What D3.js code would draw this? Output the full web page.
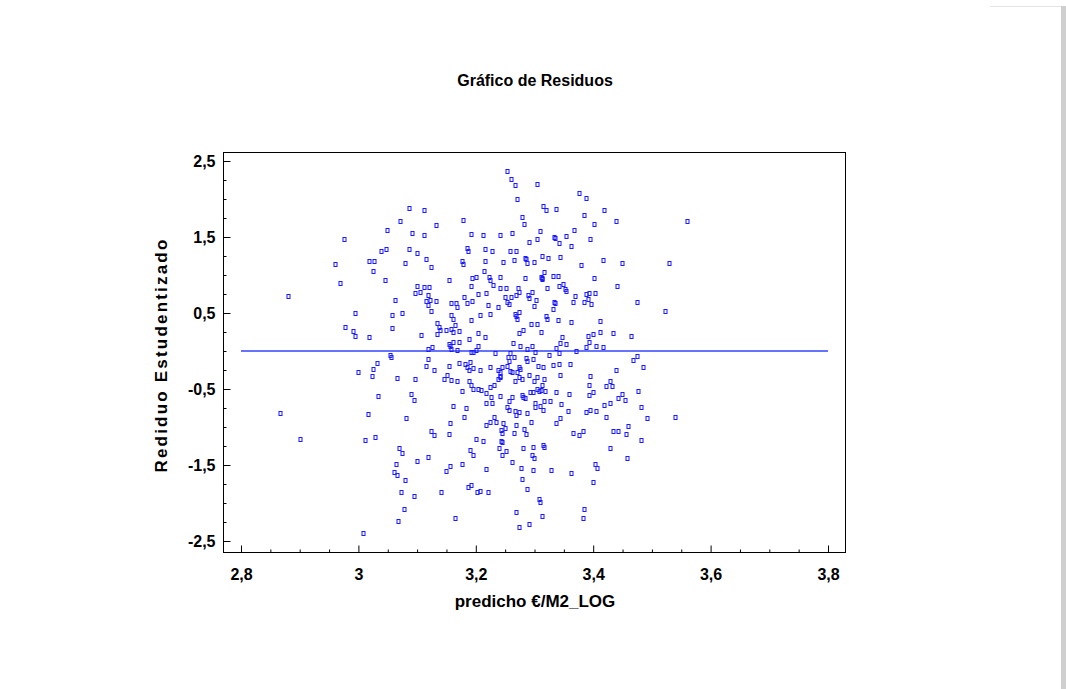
<!DOCTYPE html>
<html>
<head>
<meta charset="utf-8">
<script src="https://cdn.jsdelivr.net/npm/d3@7/dist/d3.min.js"></script>
<style>
  body { margin: 0; background: #fff; }
  svg { display: block; }
  text { font-family: "Liberation Sans", Arial, sans-serif; font-weight: bold; }
</style>
</head>
<body>
<div id="demo"></div>
<script>

// Tick values and their labels (comma decimals, as in the original).
const xTicks = [2.8, 3.0, 3.2, 3.4, 3.6, 3.8];
const xTickLabels = ["2,8", "3", "3,2", "3,4", "3,6", "3,8"];
const yTicks = [2.5, 1.5, 0.5, -0.5, -1.5, -2.5];
const yTickLabels = ["2,5", "1,5", "0,5", "-0,5", "-1,5", "-2,5"];

// Predicted value (x) for each observation.
const predicho = [
  2.976,2.960,3.018,3.027,3.025,2.968,
  3.087,3.111,3.071,3.133,3.178,3.048,3.091,3.112,3.191,3.213,3.039,3.047,3.086,3.100,3.185,3.187,3.115,3.079,3.177,3.179,3.123,3.214,3.045,3.154,3.193,3.201,3.100,3.112,3.120,3.191,3.216,
  3.253,3.260,3.266,3.305,3.270,3.375,3.387,3.315,3.319,3.337,3.278,3.282,3.384,3.401,3.242,3.261,3.309,3.290,3.305,3.335,3.342,3.353,3.367,3.362,3.395,3.228,3.258,3.268,3.216,3.247,3.265,3.285,3.288,3.299,3.312,3.323,3.344,3.380,3.222,3.224,3.229,3.241,3.283,3.316,3.312,3.313,3.331,3.340,3.341,3.348,3.401,3.242,3.251,3.272,3.321,3.352,3.333,3.284,3.311,
  3.419,3.439,3.560,3.416,3.449,3.529,3.441,
  2.880,2.995,2.977,2.991,2.995,3.018,2.999,3.025,3.023,2.867,3.017,
  3.097,3.105,3.118,3.180,3.204,3.062,3.115,3.122,3.133,3.157,3.166,3.168,3.185,3.194,3.118,3.057,3.075,3.123,3.157,3.161,3.191,3.207,3.165,3.134,3.138,3.058,3.139,3.150,3.158,3.171,3.107,3.134,3.162,3.203,3.188,3.154,3.156,3.162,3.172,3.204,3.118,3.126,3.157,3.168,3.191,3.196,3.200,3.053,3.056,3.032,3.118,3.115,3.128,3.154,3.151,3.146,3.158,3.168,3.171,3.182,3.185,3.190,3.188,3.195,3.208,3.065,3.096,3.188,3.191,3.195,3.204,3.209,3.177,3.089,3.095,3.033,3.161,3.183,3.180,3.081,
  3.217,3.250,3.260,3.269,3.274,3.289,3.291,3.296,3.302,3.353,3.369,3.387,3.393,3.220,3.225,3.238,3.254,3.256,3.266,3.269,3.271,3.273,3.299,3.320,3.321,3.332,3.334,3.335,3.340,3.362,3.365,3.384,3.391,3.396,
  3.216,3.274,3.280,3.294,3.304,3.311,3.347,3.391,3.400,3.263,3.275,3.295,3.287,3.301,3.324,3.336,3.343,3.353,3.342,3.370,3.388,3.393,
  3.232,3.255,3.259,3.256,3.265,3.245,3.224,3.237,3.241,3.242,3.254,3.258,3.261,3.270,3.274,3.276,3.286,3.288,3.298,3.306,3.314,3.332,3.341,3.361,
  3.225,3.231,3.238,3.241,3.267,3.273,3.278,3.291,3.299,3.304,3.316,3.343,3.394,3.392,
  3.217,3.226,3.241,3.257,3.262,3.279,3.281,3.283,3.292,3.298,3.305,3.307,3.311,3.318,3.312,3.316,3.326,3.337,3.359,3.393,3.399,
  3.218,3.228,3.253,3.257,3.267,3.274,3.269,3.300,3.301,3.309,3.314,3.345,3.357,3.387,3.395,3.231,3.287,3.343,
  3.403,3.475,3.522,3.412,3.412,3.434,3.465,3.405,3.417,3.474,3.467,3.484,3.438,3.428,3.422,3.432,3.477,3.449,3.443,3.454,3.428,3.419,3.481,3.405,3.421,3.492,3.540,
  2.901,3.011,3.028,3.008,
  3.156,3.124,3.128,3.155,3.069,3.074,3.100,3.118,3.064,3.156,3.149,3.176,3.060,3.066,3.079,3.201,3.212,3.190,3.195,3.186,3.192,3.202,3.208,3.072,3.094,3.140,3.077,3.068,3.164,
  3.217,3.224,3.234,3.246,3.250,3.268,3.282,3.286,3.294,3.336,3.243,3.244,3.265,3.365,3.376,3.383,3.243,3.245,3.239,3.251,3.244,3.280,3.298,3.315,3.317,3.295,3.299,3.261,3.217,3.277,3.298,3.328,3.362,3.403,3.279,3.220,3.288,3.400,3.307,3.309,3.384,3.269,3.312,3.383,3.290,3.273,
  3.459,3.433,3.443,3.456,3.482,3.429,3.458,3.407
];

// Studentized residual (y) for each observation, same order as predicho.
const residuo = [
  1.474,1.145,1.180,1.188,1.053,0.899,
  1.882,1.851,1.714,1.662,1.724,1.596,1.557,1.526,1.539,1.526,1.312,1.342,1.342,1.289,1.359,1.320,1.211,1.154,1.180,1.141,1.101,1.057,0.934,0.934,0.957,0.970,0.859,0.838,0.846,0.859,1.338,
  2.368,2.263,2.180,2.193,1.996,2.075,2.013,1.912,1.859,1.872,1.759,1.671,1.786,1.675,1.522,1.557,1.579,1.438,1.478,1.487,1.425,1.513,1.596,1.386,1.478,1.320,1.320,1.316,1.184,1.167,1.201,1.214,1.154,1.167,1.254,1.220,1.233,1.136,0.978,0.934,0.868,0.970,0.957,1.043,0.964,0.947,0.987,0.983,0.855,0.882,0.961,0.833,0.833,0.825,0.833,0.812,1.495,1.220,0.975,
  1.855,1.707,1.707,1.197,1.154,1.154,0.855,
  0.724,0.496,0.312,0.267,0.201,0.180,-0.272,-0.233,-0.329,-0.820,-0.833,
  0.767,0.780,0.741,0.714,0.750,0.667,0.658,0.671,0.654,0.628,0.628,0.583,0.636,0.654,0.601,0.478,0.500,0.526,0.470,0.417,0.412,0.478,0.346,0.364,0.320,0.299,0.272,0.280,0.286,0.267,0.207,0.224,0.246,0.233,0.158,0.088,0.066,0.114,0.114,0.070,0.030,0.049,0.022,0.013,-0.009,-0.009,0.009,-0.049,-0.079,-0.158,-0.109,-0.197,-0.250,-0.201,-0.312,-0.372,-0.386,-0.391,-0.162,-0.171,-0.211,-0.141,-0.250,-0.224,-0.246,-0.355,-0.372,-0.395,-0.447,-0.504,-0.500,-0.517,-0.530,-0.566,-0.641,-0.592,-0.720,-0.750,-0.872,-0.878,
  0.768,0.715,0.706,0.737,0.781,0.741,0.702,0.781,0.671,0.789,0.724,0.750,0.768,0.601,0.487,0.575,0.645,0.618,0.487,0.456,0.417,0.513,0.592,0.461,0.417,0.548,0.649,0.627,0.408,0.386,0.645,0.645,0.680,0.618,
  0.189,0.232,0.276,0.355,0.355,0.254,0.180,0.193,0.224,0.101,0.066,0.070,0.022,-0.013,-0.057,0.039,0.101,0.092,-0.031,0.004,0.057,0.114,
  -0.026,-0.075,-0.031,-0.132,-0.075,-0.206,-0.206,-0.250,-0.281,-0.329,-0.197,-0.259,-0.276,-0.272,-0.215,-0.241,-0.097,-0.127,-0.105,-0.197,-0.206,-0.184,-0.171,-0.176,
  -0.478,-0.447,-0.373,-0.347,-0.390,-0.338,-0.368,-0.316,-0.390,-0.347,-0.373,-0.320,-0.333,-0.447,
  -0.553,-0.601,-0.592,-0.654,-0.601,-0.579,-0.601,-0.623,-0.535,-0.540,-0.500,-0.526,-0.513,-0.526,-0.447,-0.662,-0.658,-0.540,-0.566,-0.575,-0.544,
  -0.689,-0.689,-0.741,-0.776,-0.789,-0.798,-0.842,-0.689,-0.741,-0.719,-0.781,-0.697,-0.785,-0.798,-0.772,-0.864,-0.811,-0.877,
  0.768,0.640,0.531,0.390,0.246,0.232,0.202,0.070,0.048,-0.066,-0.123,-0.215,-0.254,-0.395,-0.465,-0.456,-0.531,-0.561,-0.618,-0.640,-0.689,-0.706,-0.741,-0.794,-0.873,-0.882,-0.873,
  -1.154,-1.171,-1.136,-2.399,
  -0.943,-1.057,-1.110,-1.097,-1.272,-1.342,-1.443,-1.395,-1.482,-1.518,-1.575,-1.491,-1.588,-1.636,-1.693,-1.154,-1.184,-1.298,-1.364,-1.785,-1.759,-1.860,-1.838,-1.860,-1.904,-1.860,-2.083,-2.241,-2.193,
  -0.978,-0.930,-0.930,-0.943,-1.018,-0.974,-1.031,-1.097,-0.930,-0.952,-1.040,-1.075,-1.075,-1.083,-1.110,-1.053,-1.189,-1.202,-1.272,-1.311,-1.364,-1.272,-1.268,-1.241,-1.259,-1.364,-1.408,-1.465,-1.553,-1.544,-1.566,-1.566,-1.601,-1.482,-1.684,-1.860,-1.816,-1.728,-1.943,-1.991,-2.083,-2.123,-2.167,-2.193,-2.272,-2.316,
  -0.987,-1.053,-1.053,-1.097,-1.175,-1.272,-1.408,-1.539
];

const w = 1066;
const h = 689;

// Plot frame (the box is a bit larger than the axis ranges).
const frame = { left: 223, right: 845, top: 152, bottom: 552 };

const svg = d3.select("#demo")
  .append("svg")
  .attr("width", w)
  .attr("height", h);

// Grey page edge on the right.
svg.append("rect")
  .attr("x", 1061).attr("y", 6)
  .attr("width", 5).attr("height", h - 6)
  .attr("fill", "#cfcfcf");
svg.append("line")
  .attr("x1", 990).attr("x2", 1061).attr("y1", 6.5).attr("y2", 6.5)
  .attr("stroke", "#e4e4e4");

const xScale = d3.scaleLinear().domain([2.8, 3.8]).range([241, 828]);
const yScale = d3.scaleLinear().domain([-2.5, 2.5]).range([541, 161]);

// Frame.
svg.append("rect")
  .attr("x", frame.left + 0.5)
  .attr("y", frame.top + 0.5)
  .attr("width", frame.right - frame.left)
  .attr("height", frame.bottom - frame.top)
  .attr("fill", "none")
  .attr("stroke", "#000")
  .attr("stroke-width", 1);

// Minor ticks every 0.05 on x and 0.25 on y.
const xMinor = d3.range(2.8, 3.8001, 0.05).filter(v => Math.abs(Math.round(v * 5) - v * 5) > 1e-6);
const yMinor = d3.range(-2.5, 2.5001, 0.25).filter(v => Math.abs(Math.round(v - 0.5) - (v - 0.5)) > 1e-6);

svg.append("g")
  .attr("transform", "translate(0," + (frame.bottom + 0.5) + ")")
  .call(d3.axisBottom(xScale).tickValues(xMinor).tickSize(-3).tickFormat(""))
  .call(g => g.select(".domain").remove());

svg.append("g")
  .attr("transform", "translate(" + (frame.left + 0.5) + ",0)")
  .call(d3.axisLeft(yScale).tickValues(yMinor).tickSize(-3).tickFormat(""))
  .call(g => g.select(".domain").remove());

// Major axes.
const xAxis = d3.axisBottom(xScale)
  .tickValues(xTicks)
  .tickSize(-7)
  .tickPadding(16)
  .tickFormat((d, i) => xTickLabels[i]);

svg.append("g")
  .attr("transform", "translate(0," + (frame.bottom + 0.5) + ")")
  .call(xAxis)
  .call(g => g.select(".domain").remove())
  .selectAll("text")
  .attr("font-size", 16)
  .attr("fill", "#000");

const yAxis = d3.axisLeft(yScale)
  .tickValues(yTicks)
  .tickSize(-7)
  .tickPadding(8)
  .tickFormat((d, i) => yTickLabels[i]);

svg.append("g")
  .attr("transform", "translate(" + (frame.left + 0.5) + ",0)")
  .call(yAxis)
  .call(g => g.select(".domain").remove())
  .selectAll("text")
  .attr("font-size", 16)
  .attr("fill", "#000");

svg.selectAll(".tick line").attr("stroke", "#000");

// Zero line.
svg.append("line")
  .attr("x1", xScale(2.8))
  .attr("x2", xScale(3.8))
  .attr("y1", yScale(0))
  .attr("y2", yScale(0))
  .attr("stroke", "#3344ff")
  .attr("stroke-width", 1.3);

// Points: small hollow boxes.
const points = predicho.map((p, i) => ({ x: p, y: residuo[i] }));

svg.append("g")
  .selectAll("rect")
  .data(points)
  .enter()
  .append("rect")
  .attr("x", d => Math.round(xScale(d.x)) - 1)
  .attr("y", d => Math.round(yScale(d.y)) - 1.5)
  .attr("width", 3)
  .attr("height", 4)
  .attr("fill", "none")
  .attr("stroke", "#1a1aff")
  .attr("stroke-width", 1);

// Title.
svg.append("text")
  .attr("x", 535)
  .attr("y", 86)
  .attr("text-anchor", "middle")
  .attr("font-size", 16)
  .text("Gráfico de Residuos");

// X label.
svg.append("text")
  .attr("x", 535)
  .attr("y", 607)
  .attr("text-anchor", "middle")
  .attr("font-size", 17)
  .text("predicho €/M2_LOG");

// Y label, rotated and spaced out.
svg.append("text")
  .attr("transform", "translate(167,355) rotate(-90)")
  .attr("text-anchor", "middle")
  .attr("font-size", 17)
  .attr("letter-spacing", 2.2)
  .text("Rediduo Estudentizado");

</script>
</body>
</html>
